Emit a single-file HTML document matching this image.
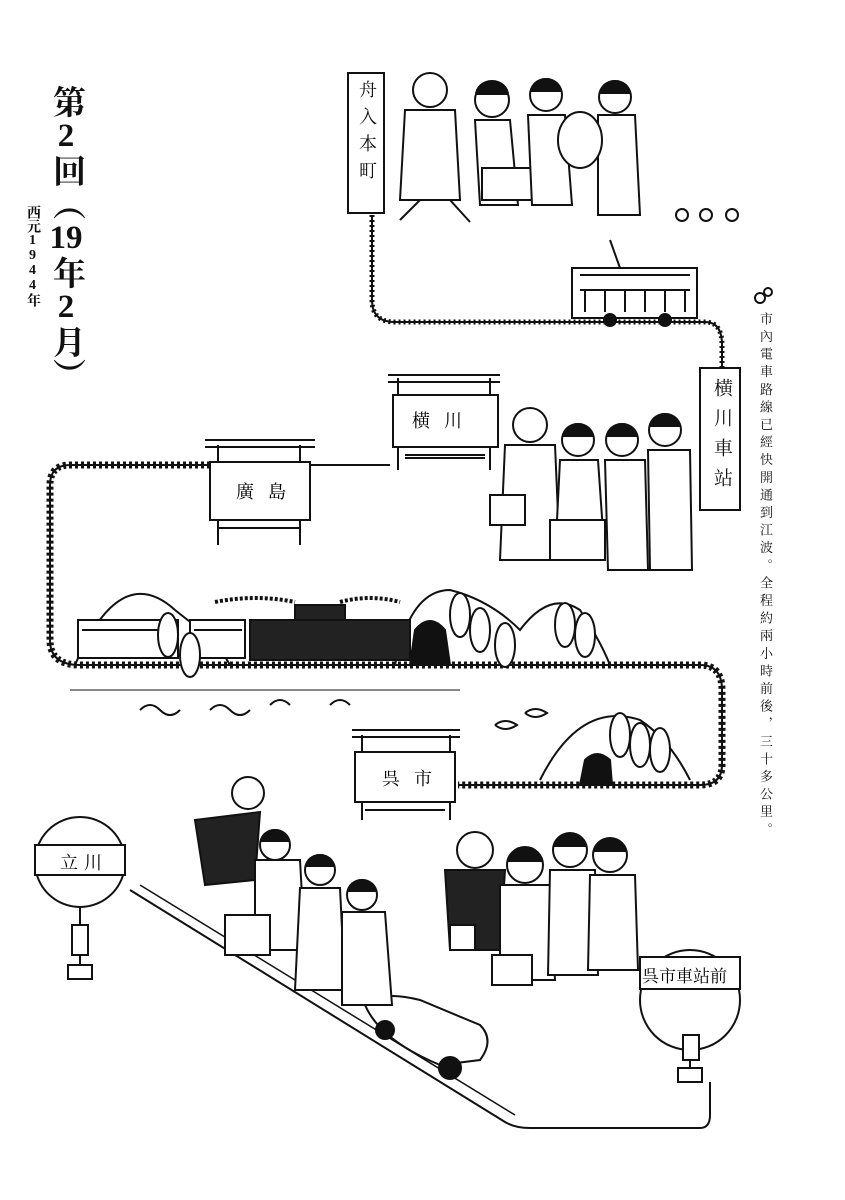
<!DOCTYPE html>
<html><head><meta charset="utf-8">
<style>
body{margin:0;background:#fff;}
#c{position:relative;width:845px;height:1200px;overflow:hidden;background:#fff;font-family:"Liberation Serif","Noto Serif CJK SC",serif;}
.v{position:absolute;writing-mode:vertical-rl;text-orientation:upright;color:#111;}
svg{position:absolute;left:0;top:0;}
</style></head><body><div id="c">
<svg width="845" height="1200" viewBox="0 0 845 1200" fill="none" stroke="#111" stroke-width="2">
<path d="M372 215 L372 300 Q372 322 395 322 L705 322 Q722 322 722 345 L722 372" stroke-width="5" stroke-dasharray="2 3"/>
<path d="M372 215 L372 300 Q372 322 395 322 L705 322 Q722 322 722 345 L722 372"/>
<path d="M310 465 L390 465" stroke-width="2"/>
<path d="M210 465 L70 465 Q50 465 50 485 L50 640 Q50 665 80 665 L700 665 Q722 665 722 690 L722 765 Q722 785 700 785 L458 785" stroke-width="7" stroke-dasharray="3 3"/>
<path d="M210 465 L70 465 Q50 465 50 485 L50 640 Q50 665 80 665 L700 665 Q722 665 722 690 L722 765 Q722 785 700 785 L458 785"/>
<path d="M130 890 L505 1122 Q515 1128 530 1128 L700 1128 Q710 1128 710 1115 L710 1082" stroke-width="2"/>
<path d="M140 885 L515 1115" stroke-width="1.5"/>
<rect x="348" y="73" width="36" height="140" fill="#fff"/>
<rect x="700" y="368" width="40" height="142" fill="#fff"/>
<path d="M388 375 L500 375 M388 382 L500 382 M398 378 L398 470 M490 378 L490 470"/>
<rect x="393" y="395" width="105" height="52" fill="#fff"/>
<path d="M405 455 L485 455 M405 458 L485 458"/>
<path d="M205 440 L315 440 M205 447 L315 447 M218 445 L218 545 M300 445 L300 545"/>
<rect x="210" y="462" width="100" height="58" fill="#fff"/>
<path d="M218 528 L300 528"/>
<path d="M352 730 L460 730 M352 737 L460 737 M362 735 L362 820 M450 735 L450 820"/>
<rect x="355" y="752" width="100" height="50" fill="#fff"/>
<path d="M365 810 L445 810"/>
<circle cx="80" cy="862" r="45" fill="#fff"/>
<rect x="35" y="845" width="90" height="30" fill="#fff"/>
<path d="M80 907 L80 975"/><rect x="72" y="925" width="16" height="30" fill="#fff"/><rect x="68" y="965" width="24" height="14" fill="#fff"/>
<circle cx="690" cy="1000" r="50" fill="#fff"/>
<rect x="640" y="957" width="100" height="32" fill="#fff"/>
<path d="M690 1050 L690 1075"/><rect x="683" y="1035" width="16" height="25" fill="#fff"/><rect x="678" y="1068" width="24" height="14" fill="#fff"/>
<rect x="572" y="268" width="125" height="50" fill="#fff"/>
<path d="M580 275 L690 275 M580 290 L690 290 M585 290 L585 312 M605 290 L605 312 M625 290 L625 312 M645 290 L645 312 M665 290 L665 312 M685 290 L685 312 M620 268 L610 240"/>
<circle cx="610" cy="320" r="6" fill="#111"/><circle cx="665" cy="320" r="6" fill="#111"/>
<path d="M75 665 Q120 560 175 610 Q200 630 215 640 L230 665"/>
<path d="M395 665 Q410 590 450 590 Q490 600 520 630 Q550 590 580 610 Q600 640 610 665"/>
<path d="M410 665 L415 630 Q430 612 445 630 L450 665 Z" fill="#111"/>
<path d="M540 780 Q580 700 640 720 Q670 740 690 780"/>
<path d="M580 785 L585 760 Q597 748 610 760 L612 785 Z" fill="#111"/>
<rect x="78" y="620" width="100" height="38" fill="#fff"/>
<rect x="190" y="620" width="55" height="38" fill="#fff"/>
<path d="M82 630 L175 630 M194 630 L242 630"/>
<rect x="250" y="620" width="160" height="40" fill="#222"/>
<rect x="295" y="605" width="50" height="15" fill="#222"/>
<path d="M215 602 q40 -8 80 0 M340 602 q30 -8 60 0" stroke-width="4" stroke-dasharray="3 2"/>
<path d="M70 690 L460 690" stroke-width="1"/>
<path d="M140 710 q10 -10 20 0 q10 10 20 0 M210 710 q10 -10 20 0 q10 10 20 0 M270 705 q10 -10 20 0 M330 705 q10 -10 20 0"/>
<path d="M495 725 q10 -8 22 0 q-12 8 -22 0 M525 713 q10 -8 22 0 q-12 8 -22 0"/>
<g fill="#fff"><ellipse cx="168" cy="635" rx="10" ry="22"/><ellipse cx="190" cy="655" rx="10" ry="22"/><ellipse cx="460" cy="615" rx="10" ry="22"/><ellipse cx="480" cy="630" rx="10" ry="22"/><ellipse cx="505" cy="645" rx="10" ry="22"/><ellipse cx="565" cy="625" rx="10" ry="22"/><ellipse cx="585" cy="635" rx="10" ry="22"/><ellipse cx="620" cy="735" rx="10" ry="22"/><ellipse cx="640" cy="745" rx="10" ry="22"/><ellipse cx="660" cy="750" rx="10" ry="22"/></g>
<path d="M365 1005 Q380 990 420 1000 L480 1025 Q495 1040 480 1060 L440 1065 Q380 1040 365 1005 Z" fill="#fff"/>
<circle cx="385" cy="1030" r="9" fill="#111"/><circle cx="450" cy="1068" r="11" fill="#111"/>
<g fill="#fff" stroke-width="2">
<circle cx="430" cy="90" r="17"/><path d="M405 110 L455 110 L460 200 L400 200 Z"/><path d="M400 220 L420 200 L450 200 L470 222"/>
<circle cx="492" cy="100" r="17"/><path d="M475 120 L510 120 L518 205 L480 205 Z"/><rect x="482" y="168" width="55" height="32"/>
<circle cx="546" cy="95" r="16"/><path d="M528 115 L565 115 L572 205 L532 205 Z"/>
<circle cx="615" cy="97" r="16"/><path d="M598 115 L635 115 L640 215 L598 215 Z"/><ellipse cx="580" cy="140" rx="22" ry="28"/>
<circle cx="530" cy="425" r="17"/><path d="M505 445 L555 445 L560 560 L500 560 Z"/><rect x="490" y="495" width="35" height="30"/>
<circle cx="578" cy="440" r="16"/><path d="M560 460 L598 460 L605 560 L555 560 Z"/><rect x="550" y="520" width="55" height="40"/>
<circle cx="622" cy="440" r="16"/><path d="M605 460 L645 460 L648 570 L608 570 Z"/>
<circle cx="665" cy="430" r="16"/><path d="M648 450 L690 450 L692 570 L650 570 Z"/>
<circle cx="248" cy="793" r="16"/><path d="M195 820 L260 812 L255 880 L205 885 Z" fill="#222"/>
<circle cx="275" cy="845" r="15"/><path d="M255 860 L300 860 L305 950 L255 950 Z"/><rect x="225" y="915" width="45" height="40"/>
<circle cx="320" cy="870" r="15"/><path d="M300 888 L340 888 L345 990 L295 990 Z"/>
<circle cx="362" cy="895" r="15"/><path d="M342 912 L385 912 L392 1005 L342 1005 Z"/>
<circle cx="475" cy="850" r="18"/><path d="M445 870 L505 870 L500 950 L450 950 Z" fill="#222"/><rect x="450" y="925" width="25" height="25"/>
<circle cx="525" cy="865" r="18"/><path d="M500 885 L550 885 L555 980 L500 980 Z"/><rect x="492" y="955" width="40" height="30"/>
<circle cx="570" cy="850" r="17"/><path d="M550 870 L595 870 L598 975 L548 975 Z"/>
<circle cx="610" cy="855" r="17"/><path d="M590 875 L635 875 L638 970 L588 970 Z"/>
</g>
<g fill="#111" stroke="none">
<path d="M475 95 a17 15 0 0 1 34 0 Z"/><path d="M530 92 a16 14 0 0 1 32 0 Z"/><path d="M599 94 a16 14 0 0 1 32 0 Z"/>
<path d="M562 437 a16 14 0 0 1 32 0 Z"/><path d="M606 437 a16 14 0 0 1 32 0 Z"/><path d="M649 427 a16 14 0 0 1 32 0 Z"/>
<path d="M260 842 a15 13 0 0 1 30 0 Z"/><path d="M305 867 a15 13 0 0 1 30 0 Z"/><path d="M347 892 a15 13 0 0 1 30 0 Z"/>
<path d="M507 862 a18 15 0 0 1 36 0 Z"/><path d="M553 847 a17 14 0 0 1 34 0 Z"/><path d="M593 852 a17 14 0 0 1 34 0 Z"/>
</g>
<circle cx="682" cy="215" r="6"/><circle cx="706" cy="215" r="6"/><circle cx="732" cy="215" r="6"/>
<circle cx="760" cy="298" r="5"/><circle cx="768" cy="292" r="4"/>
</svg>
<div class="v" style="left:354px;top:80px;font-size:18px;letter-spacing:9px;">舟入本町</div>
<div class="v" style="left:708px;top:378px;font-size:19px;letter-spacing:11px;">横川車站</div>
<div style="position:absolute;left:412px;top:407px;font-size:18px;letter-spacing:14px;">横川</div>
<div style="position:absolute;left:236px;top:478px;font-size:18px;letter-spacing:14px;">廣島</div>
<div style="position:absolute;left:382px;top:765px;font-size:18px;letter-spacing:14px;">呉市</div>
<div style="position:absolute;left:60px;top:849px;font-size:18px;letter-spacing:6px;">立川</div>
<div style="position:absolute;left:642px;top:962px;font-size:17px;letter-spacing:0px;">呉市車站前</div>
<div class="v" style="left:48px;top:85px;font-size:33px;font-weight:bold;line-height:36px;">第<span style="writing-mode:horizontal-tb;display:inline-block;">2</span>回︵<span style="writing-mode:horizontal-tb;display:inline-block;">19</span>年<span style="writing-mode:horizontal-tb;display:inline-block;">2</span>月︶</div>
<div class="v" style="left:24px;top:205px;font-size:14px;line-height:16px;font-weight:bold;">西元1944年</div>
<div class="v" style="left:757px;top:312px;font-size:13px;letter-spacing:4.6px;line-height:16px;">市內電車路線已經快開通到江波。全程約兩小時前後，三十多公里。</div>
</div></body></html>
